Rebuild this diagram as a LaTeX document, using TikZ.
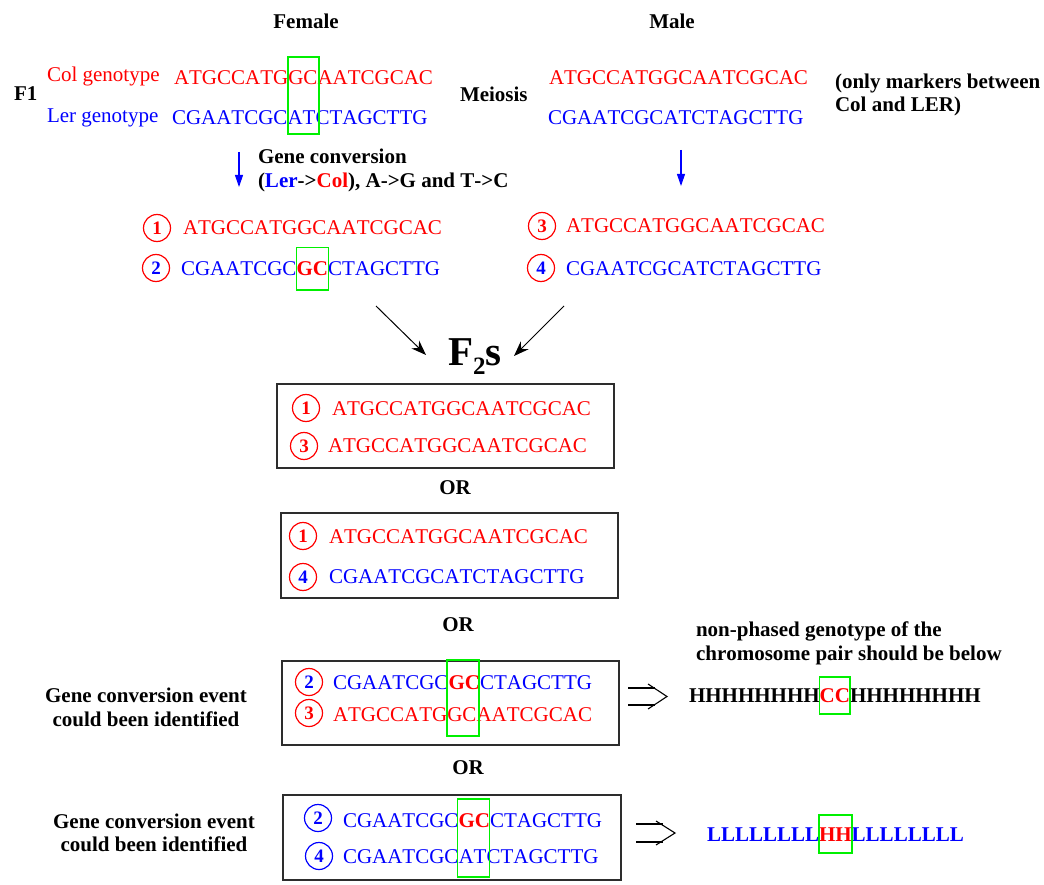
\documentclass[tikz,border=0pt]{standalone}
\usepackage{fontspec}
\newfontfamily\tnr[Kerning=Off]{Liberation Serif}
\usetikzlibrary{arrows.meta,calc}
\definecolor{hlgreen}{RGB}{0,240,0}
\definecolor{sred}{RGB}{255,0,0}
\definecolor{sblue}{RGB}{0,0,255}
\definecolor{framegray}{RGB}{45,45,45}
\newcommand\hlseq[7]{%
  \node[txt, text=#4] (#1a) at (#2,#3) {#5};
  \node[txt, text=#4] (#1b) at (#1a.base east) {#6};
  \node[txt, text=#4] (#1c) at (#1b.base east) {#7};}
\newcommand\hlred[1]{{\bfseries\color{sred}#1}}
\tikzset{
  txt/.style={inner sep=0pt, outer sep=0pt, anchor=base west, font=\tnr\fontsize{21}{25}\selectfont},
  btxt/.style={inner sep=0pt, outer sep=0pt, anchor=base west, font=\tnr\bfseries\fontsize{21}{25}\selectfont},
  ctxt/.style={inner sep=0pt, outer sep=0pt, anchor=base, font=\tnr\bfseries\fontsize{21}{25}\selectfont},
  num/.style={circle, draw=#1, line width=1.2pt, minimum size=27pt, inner sep=0pt,
              font=\tnr\bfseries\fontsize{19}{19}\selectfont},
  gbox/.style={draw=hlgreen, line width=1.6pt},
  frame/.style={draw=framegray, line width=1.4pt},
  barrow/.style={draw=sblue, line width=1.1pt, -{Triangle[length=12pt,width=8pt]}},
  karrow/.style={draw=black, line width=1pt, -{Stealth[length=15pt,width=11pt]}},
  dbl/.style={draw=black, line width=1.1pt},
}
\begin{document}
\begin{tikzpicture}[x=1pt,y=-1pt]
\useasboundingbox (0,0) rectangle (1044,885);

% headings
\node[ctxt] (female) at (306,29) {Female};
\node[ctxt] (male) at (672,29) {Male};
\node[btxt] (f1) at (14,101) {F1};
\node[txt, text=sred] (colg) at (47,82) {Col genotype};
\node[txt, text=sblue] (lerg) at (47,123) {Ler genotype};
\node[btxt] (meiosis) at (460,102) {Meiosis};
\node[btxt] (only1) at (835,89) {(only markers between};
\node[btxt] (only2) at (835,112) {Col and LER)};

% F1 female sequences
\hlseq{fcol}{174}{85}{sred}{ATGCCATG}{GC}{AATCGCAC}
\hlseq{fler}{172}{125}{sblue}{CGAATCGC}{AT}{CTAGCTTG}
\draw[gbox] ($(fcolb.north west)+(-0.5,-14)$) rectangle ($(fcolb.east |- flerb.south)+(1.5,9)$);

% F1 male sequences
\node[txt, text=sred] (mcol) at (549,85) {ATGCCATGGCAATCGCAC};
\node[txt, text=sblue] (mler) at (548,125) {CGAATCGCATCTAGCTTG};

% blue arrows
\coordinate (fas) at (239,152);
\coordinate (fae) at (239,187);
\draw[barrow] (fas) -- (fae);
\coordinate (mas) at (681,150);
\coordinate (mae) at (681,186);
\draw[barrow] (mas) -- (mae);

\node[btxt] (gc1) at (258,164) {Gene conversion};
\node[btxt] (gc2) at (258,188) {(\textcolor{sblue}{Ler}->\textcolor{sred}{Col}), A->G and T->C};

% gametes
\node[num=sred, text=sred] (c1) at (157,228) {1};
\node[txt, text=sred] (s1) at (183,235) {ATGCCATGGCAATCGCAC};
\node[num=sred, text=sblue] (c2) at (156,268) {2};
\hlseq{r2}{181}{276}{sblue}{CGAATCGC}{\hlred{GC}}{CTAGCTTG}
\draw[gbox] ($(r2b.north west)+(0,-14.5)$) rectangle ($(r2b.south east)+(0.5,14)$);

\node[num=sred, text=sred] (c3) at (542,226) {3};
\node[txt, text=sred] (s3) at (566,233) {ATGCCATGGCAATCGCAC};
\node[num=sred, text=sblue] (c4) at (541,268) {4};
\node[txt, text=sblue] (s4) at (566,276) {CGAATCGCATCTAGCTTG};

% black arrows to F2s
\coordinate (ka1) at (376,306);
\coordinate (kb1) at (426,355);
\coordinate (ka2) at (564,306);
\coordinate (kb2) at (514,356);
\draw[karrow] (ka1) -- (kb1);
\draw[karrow] (ka2) -- (kb2);
\node[inner sep=0pt, anchor=base west, font=\tnr\bfseries\fontsize{41}{45}\selectfont] (f2s) at (448,365)
  {F\raisebox{-9pt}{\fontsize{25}{25}\selectfont 2}s};

% box 1
\draw[frame] (277,384) rectangle (614,468);
\node[num=sred, text=sred] (b1c1) at (306,408) {1};
\node[txt, text=sred] (b1s1) at (332,415) {ATGCCATGGCAATCGCAC};
\node[num=sred, text=sred] (b1c3) at (304,446) {3};
\node[txt, text=sred] (b1s3) at (328,452) {ATGCCATGGCAATCGCAC};
\node[ctxt] (or1) at (455,494) {OR};

% box 2
\draw[frame] (281,513) rectangle (618,598);
\node[num=sred, text=sred] (b2c1) at (303,536) {1};
\node[txt, text=sred] (b2s1) at (329,543) {ATGCCATGGCAATCGCAC};
\node[num=sred, text=sblue] (b2c4) at (303,577) {4};
\node[txt, text=sblue] (b2s4) at (329,583) {CGAATCGCATCTAGCTTG};
\node[ctxt] (or2) at (458,631) {OR};

% box 3
\draw[frame] (282,661) rectangle (619,745);
\node[num=sred, text=sblue] (b3c2) at (309,682) {2};
\hlseq{r32}{333}{689}{sblue}{CGAATCGC}{\hlred{GC}}{CTAGCTTG}
\node[num=sred, text=sred] (b3c3) at (309,713) {3};
\hlseq{r33}{333}{721}{sred}{ATGCCATG}{GC}{AATCGCAC}
\draw[gbox] ($(r32b.north west)+(-1.5,-15)$) rectangle ($(r32b.east |- r33b.south)+(-1,15)$);
\node[ctxt] (gce1a) at (146,702) {Gene conversion event};
\node[ctxt] (gce1b) at (146,726) {could been identified};
\node[ctxt] (or3) at (468,774) {OR};

% box 4
\draw[frame] (283,795) rectangle (621,880);
\node[num=sblue, text=sblue] (b4c2) at (318,818) {2};
\hlseq{r42}{343}{827}{sblue}{CGAATCGC}{\hlred{GC}}{CTAGCTTG}
\node[num=sblue, text=sblue] (b4c4) at (319,856) {4};
\hlseq{r44}{343}{863}{sblue}{CGAATCGC}{AT}{CTAGCTTG}
\draw[gbox] ($(r42b.north west)+(-1,-14)$) rectangle ($(r42b.east |- r44b.south)+(-0.5,14)$);
\node[ctxt] (gce2a) at (154,828) {Gene conversion event};
\node[ctxt] (gce2b) at (154,851) {could been identified};

% double arrows
\coordinate (d1a) at (628,688);
\coordinate (d1b) at (655,688);
\coordinate (d1c) at (628,705);
\coordinate (d1d) at (655,705);
\coordinate (d1t) at (648,684);
\coordinate (d1m) at (667,696.5);
\coordinate (d1u) at (648,709);
\draw[dbl] (d1a) -- (d1b);
\draw[dbl] (d1c) -- (d1d);
\draw[dbl] (d1t) -- (d1m) -- (d1u);
\coordinate (d2a) at (636,824);
\coordinate (d2b) at (663,824);
\coordinate (d2c) at (636,842);
\coordinate (d2d) at (663,842);
\coordinate (d2t) at (656,821);
\coordinate (d2m) at (675,833);
\coordinate (d2u) at (656,845);
\draw[dbl] (d2a) -- (d2b);
\draw[dbl] (d2c) -- (d2d);
\draw[dbl] (d2t) -- (d2m) -- (d2u);

% non-phased genotype
\node[btxt] (np1) at (696,636) {non-phased genotype of the};
\node[btxt] (np2) at (696,660) {chromosome pair should be below};
\node[btxt] (hrowa) at (689,702) {HHHHHHHH};
\node[btxt, text=sred] (hrowb) at (hrowa.base east) {CC};
\node[btxt] (hrowc) at (hrowb.base east) {HHHHHHHH};
\draw[gbox] ($(hrowb.north west)+(0,-11)$) rectangle ($(hrowb.south east)+(0,12)$);
\node[btxt, text=sblue] (lrowa) at (707,841) {LLLLLLLL};
\node[btxt, text=sred] (lrowb) at (lrowa.base east) {HH};
\node[btxt, text=sblue] (lrowc) at (lrowb.base east) {LLLLLLLL};
\draw[gbox] ($(lrowb.north west)+(0,-12)$) rectangle ($(lrowb.south east)+(0,12)$);
\end{tikzpicture}
\end{document}
